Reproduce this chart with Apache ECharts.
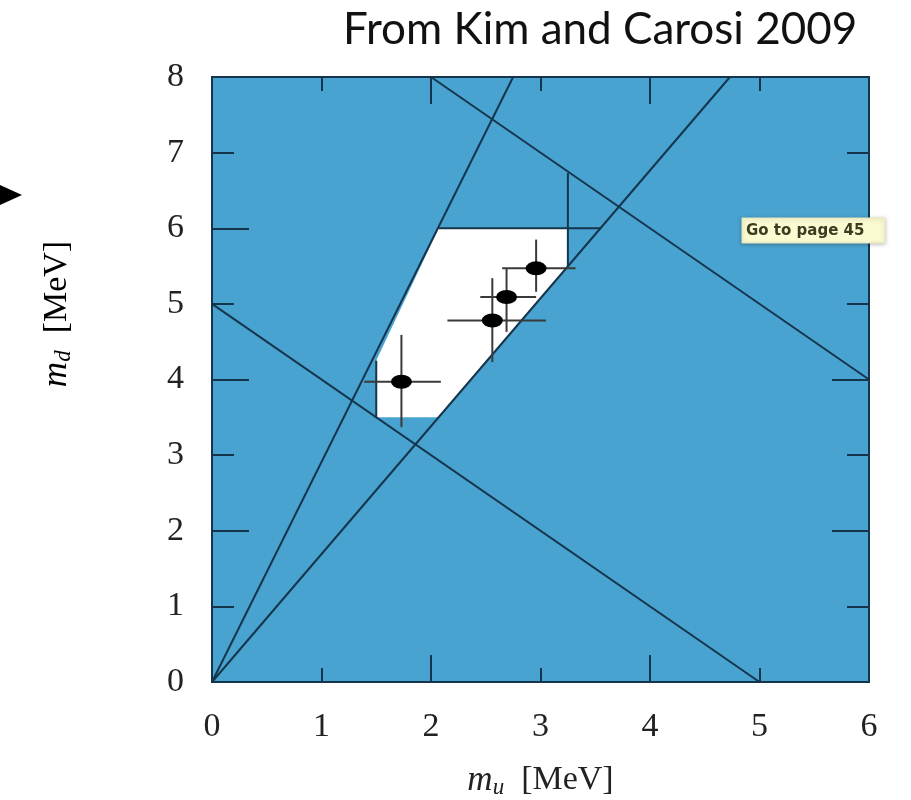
<!DOCTYPE html>
<html>
<head>
<meta charset="utf-8">
<script src="https://cdn.jsdelivr.net/npm/echarts@6/dist/echarts.min.js"></script>
<style>
html,body{margin:0;padding:0;background:#fff;}
#chart{width:911px;height:800px;}
</style>
</head>
<body>
<div id="chart"></div>
<script>
// ---- data ----
var xTicks = [0, 1, 2, 3, 4, 5, 6];
var yTicks = [0, 1, 2, 3, 4, 5, 6, 7, 8];
// allowed (white) region vertices [m_u, m_d]
var allowedRegion = [[1.5, 3.5], [2.07, 3.5], [3.25, 5.49], [3.25, 6.0], [2.07, 6.0], [1.5, 4.25]];
// constraint lines [[x1,y1],[x2,y2]]
var lineRatioLow = [[0, 0], [2.75, 8]];
var lineRatioHigh = [[0, 0], [4.73, 8]];
var lineSumLow = [[0, 5], [5, 0]];
var lineSumHigh = [[2, 8], [6, 4]];
var lineMuUpper = [[3.25, 5.49], [3.25, 6.73]];
var lineMdUpper = [[2.07, 6.0], [3.55, 6.0]];
var lineMuLower = [[1.5, 3.5], [1.5, 4.25]];
// determinations: m_u, m_d, m_u low, m_u high, m_d low, m_d high
var pointsMu = [1.73, 2.56, 2.69, 2.96];
var pointsMd = [3.97, 4.78, 5.09, 5.47];
var muLow = [1.39, 2.15, 2.45, 2.65];
var muHigh = [2.09, 3.05, 2.96, 3.32];
var mdLow = [3.37, 4.23, 4.63, 5.16];
var mdHigh = [4.59, 5.34, 5.47, 5.85];

var lineColor = '#15354d';
var chart = echarts.init(document.getElementById('chart'));

var nameRich = {
  i: {fontSize: 35, fontStyle: 'italic', fontFamily: 'Liberation Serif', color: '#222'},
  s: {fontSize: 23, fontStyle: 'italic', fontFamily: 'Liberation Serif', color: '#222', padding: [14, 0, 0, 0]},
  n: {fontSize: 34, fontFamily: 'Liberation Serif', color: '#222'}
};

function xAx(pos, interval, len, labels, nameOn) {
  var a = {
    type: 'value', min: 0, max: 6, interval: interval, position: pos, gridIndex: 0,
    axisLine: {show: true, onZero: false, lineStyle: {color: lineColor, width: 2}},
    axisTick: {show: true, inside: true, length: len, lineStyle: {color: lineColor, width: 2}},
    axisLabel: {show: labels, margin: 28, fontSize: 34, color: '#222', fontFamily: 'Liberation Serif',
      formatter: function (v) { return xTicks.indexOf(v) >= 0 ? String(v) : ''; }},
    splitLine: {show: false}
  };
  if (nameOn) {
    a.name = '{i|m}{s|u}{n|  [MeV]}';
    a.nameLocation = 'middle';
    a.nameGap = 80;
    a.nameTextStyle = {rich: nameRich};
  }
  return a;
}
function yAx(pos, interval, len, labels) {
  return {
    type: 'value', min: 0, max: 8, interval: interval, position: pos, gridIndex: 0,
    axisLine: {show: true, onZero: false, lineStyle: {color: lineColor, width: 2}},
    axisTick: {show: true, inside: true, length: len, lineStyle: {color: lineColor, width: 2}},
    axisLabel: {show: labels, margin: 28, fontSize: 34, color: '#222', fontFamily: 'Liberation Serif',
      formatter: function (v) { return yTicks.indexOf(v) >= 0 ? String(v) : ''; }},
    splitLine: {show: false}
  };
}

function seg(pts) {
  return {
    type: 'line', xAxisIndex: 0, yAxisIndex: 0, data: pts, symbol: 'none', silent: true,
    lineStyle: {color: lineColor, width: 2}, z: 5, clip: true, animation: false
  };
}

var errData = pointsMu.map(function (m, i) {
  return [m, pointsMd[i], muLow[i], muHigh[i], mdLow[i], mdHigh[i]];
});

var option = {
  animation: false,
  grid: {left: 212, right: 42, top: 77, bottom: 118, show: true, backgroundColor: '#49a3d0', borderWidth: 0,
    outerBoundsMode: 'none', containLabel: false},
  xAxis: [
    xAx('bottom', 1, 14, true, true),
    xAx('bottom', 2, 27, false, false),
    xAx('top', 1, 14, false, false),
    xAx('top', 2, 27, false, false)
  ],
  yAxis: [
    yAx('left', 1, 22, true),
    yAx('left', 2, 37, false),
    yAx('right', 1, 22, false),
    yAx('right', 2, 37, false)
  ],
  series: [
    {
      type: 'custom', xAxisIndex: 0, yAxisIndex: 0, data: [[0, 0]], z: 2, silent: true,
      renderItem: function (params, api) {
        return {
          type: 'polygon',
          shape: {points: allowedRegion.map(function (p) { return api.coord(p); })},
          style: {fill: '#ffffff', stroke: 'none'}
        };
      }
    },
    seg(lineRatioLow), seg(lineRatioHigh), seg(lineSumLow), seg(lineSumHigh),
    seg(lineMuUpper), seg(lineMdUpper), seg(lineMuLower),
    {
      type: 'custom', xAxisIndex: 0, yAxisIndex: 0, data: errData, z: 6, silent: true,
      renderItem: function (params, api) {
        var xl = api.coord([api.value(2), api.value(1)]);
        var xh = api.coord([api.value(3), api.value(1)]);
        var yl = api.coord([api.value(0), api.value(4)]);
        var yh = api.coord([api.value(0), api.value(5)]);
        var st = {stroke: '#3a3a3a', lineWidth: 2};
        return {
          type: 'group',
          children: [
            {type: 'line', shape: {x1: xl[0], y1: xl[1], x2: xh[0], y2: xh[1]}, style: st},
            {type: 'line', shape: {x1: yl[0], y1: yl[1], x2: yh[0], y2: yh[1]}, style: st}
          ]
        };
      }
    },
    {
      type: 'scatter', xAxisIndex: 0, yAxisIndex: 0, z: 7, silent: true,
      data: pointsMu.map(function (m, i) { return [m, pointsMd[i]]; }),
      symbol: 'circle', symbolSize: [21, 14],
      itemStyle: {color: '#000000', opacity: 1}
    }
  ],
  graphic: [
    {
      type: 'text', left: 343, top: 8,
      style: {text: 'From Kim and Carosi 2009', font: '44px Lato', fill: '#111'}
    },
    {
      type: 'text', x: 57, y: 314, rotation: Math.PI / 2,
      style: {
        text: '{i|m}{s|d}{n|  [MeV]}', rich: nameRich,
        textAlign: 'center', textVerticalAlign: 'middle'
      }
    },
    {
      type: 'polygon', shape: {points: [[0, 185], [22, 195], [0, 205]]}, style: {fill: '#000'}
    },
    {
      type: 'rect', shape: {x: 742, y: 218, width: 143, height: 25},
      style: {fill: '#fbfbd2', stroke: '#e8e8c0', lineWidth: 1, shadowBlur: 4, shadowColor: 'rgba(0,0,0,0.25)', shadowOffsetY: 1},
      z: 100
    },
    {
      type: 'text', x: 746, y: 231,
      style: {text: 'Go to page 45', font: 'bold 15px "DejaVu Sans"', fill: '#3d3b20', textVerticalAlign: 'middle'},
      z: 101
    }
  ]
};
chart.setOption(option);
</script>
</body>
</html>
